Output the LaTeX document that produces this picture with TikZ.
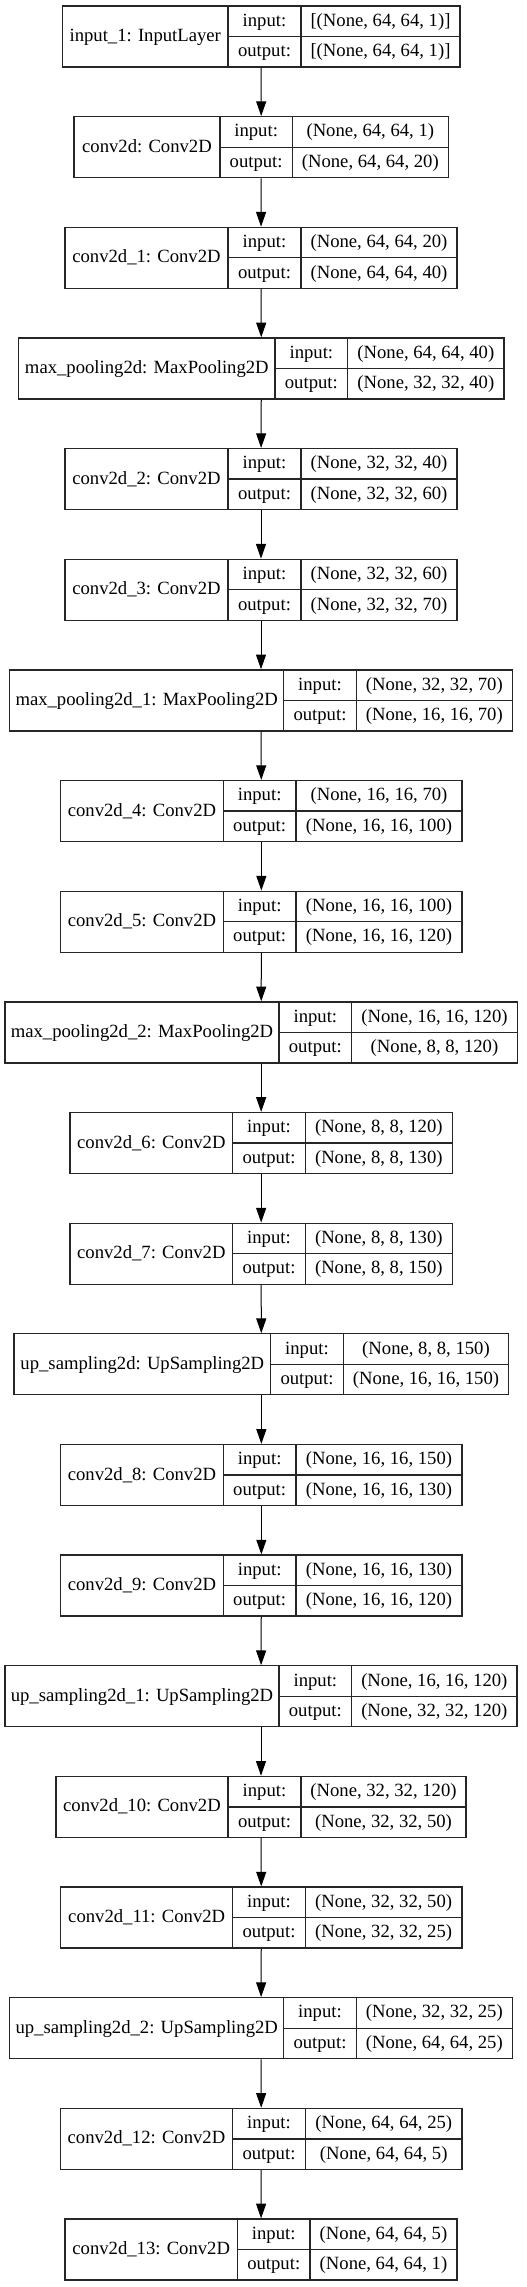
\documentclass[tikz,border=0pt]{standalone}
\usepackage{fontspec}
\setmainfont{Liberation Serif}
\usetikzlibrary{arrows.meta,positioning}

% one layer record: name, top, left, first bar, second bar, right, label, in, out
\newcommand{\layer}[9]{%
  \node[layerbox, minimum width={(#6-#3)*0.75pt}] (#1) at ({(#3+#6)/2},{#2+30.5}) {};
  \draw[divider] (#4,#2) -- (#4,{#2+61}) (#5,#2) -- (#5,{#2+61})
    (#4,{#2+30.5}) -- (#6,{#2+30.5});
  \node[celltext] (#1-name) at ({(#3+#4)/2},{#2+30.5}) {#7};
  \node[celltext] (#1-in) at ({(#4+#5)/2},{#2+15.25}) {input:};
  \node[celltext] (#1-out) at ({(#4+#5)/2},{#2+45.75}) {output:};
  \node[celltext] (#1-inv) at ({(#5+#6)/2},{#2+15.25}) {#8};
  \node[celltext] (#1-outv) at ({(#5+#6)/2},{#2+45.75}) {#9};
}

\begin{document}
\begin{tikzpicture}[x=0.75pt,y=-0.75pt,
  layerbox/.style={draw=black!85,line width=1pt,inner sep=0pt,minimum height=45.75pt},
  divider/.style={draw=black!85,line width=1pt},
  celltext/.style={inner sep=0pt,text height=10.5pt,text depth=3pt,
    font=\fontsize{14pt}{16pt}\selectfont},
  flow/.style={-{Triangle[length=11pt,width=7.5pt]},line width=0.75pt}]
  \useasboundingbox (0,0) rectangle (527,2287);

  \layer{inp}{6}{62.5}{228}{301}{460}{input\_1: InputLayer}{[(None, 64, 64, 1)]}{[(None, 64, 64, 1)]}
  \layer{conv0}{116.7}{74}{220}{292.3}{448.3}{conv2d: Conv2D}{(None, 64, 64, 1)}{(None, 64, 64, 20)}
  \layer{conv1}{227.3}{65}{228}{301}{457}{conv2d\_1: Conv2D}{(None, 64, 64, 20)}{(None, 64, 64, 40)}
  \layer{pool0}{338}{18.7}{275}{347.7}{504}{max\_pooling2d: MaxPooling2D}{(None, 64, 64, 40)}{(None, 32, 32, 40)}
  \layer{conv2}{448.6}{65}{228}{301}{457}{conv2d\_2: Conv2D}{(None, 32, 32, 40)}{(None, 32, 32, 60)}
  \layer{conv3}{559.3}{65}{228}{301}{457}{conv2d\_3: Conv2D}{(None, 32, 32, 60)}{(None, 32, 32, 70)}
  \layer{pool1}{669.9}{9.7}{283.7}{356.3}{512.3}{max\_pooling2d\_1: MaxPooling2D}{(None, 32, 32, 70)}{(None, 16, 16, 70)}
  \layer{conv4}{780.6}{60.7}{223.3}{296}{462}{conv2d\_4: Conv2D}{(None, 16, 16, 70)}{(None, 16, 16, 100)}
  \layer{conv5}{891.2}{60.7}{223.3}{296}{462}{conv2d\_5: Conv2D}{(None, 16, 16, 100)}{(None, 16, 16, 120)}
  \layer{pool2}{1001.9}{5}{279}{351.7}{517.3}{max\_pooling2d\_2: MaxPooling2D}{(None, 16, 16, 120)}{(None, 8, 8, 120)}
  \layer{conv6}{1112.5}{70}{232.7}{305.3}{452.3}{conv2d\_6: Conv2D}{(None, 8, 8, 120)}{(None, 8, 8, 130)}
  \layer{conv7}{1223.2}{70}{232.7}{305.3}{452.3}{conv2d\_7: Conv2D}{(None, 8, 8, 130)}{(None, 8, 8, 150)}
  \layer{up0}{1333.8}{14}{270.7}{343.3}{508.7}{up\_sampling2d: UpSampling2D}{(None, 8, 8, 150)}{(None, 16, 16, 150)}
  \layer{conv8}{1444.5}{60.7}{223.3}{296}{462}{conv2d\_8: Conv2D}{(None, 16, 16, 150)}{(None, 16, 16, 130)}
  \layer{conv9}{1555.1}{60.7}{223.3}{296}{462}{conv2d\_9: Conv2D}{(None, 16, 16, 130)}{(None, 16, 16, 120)}
  \layer{up1}{1665.8}{5}{279}{351.7}{517}{up\_sampling2d\_1: UpSampling2D}{(None, 16, 16, 120)}{(None, 32, 32, 120)}
  \layer{conv10}{1776.4}{56}{228}{301}{466}{conv2d\_10: Conv2D}{(None, 32, 32, 120)}{(None, 32, 32, 50)}
  \layer{conv11}{1887.1}{60.7}{232.7}{305.3}{462}{conv2d\_11: Conv2D}{(None, 32, 32, 50)}{(None, 32, 32, 25)}
  \layer{up2}{1997.7}{9.7}{283.7}{356.3}{512.3}{up\_sampling2d\_2: UpSampling2D}{(None, 32, 32, 25)}{(None, 64, 64, 25)}
  \layer{conv12}{2108.4}{60.5}{232.5}{305.5}{462}{conv2d\_12: Conv2D}{(None, 64, 64, 25)}{(None, 64, 64, 5)}
  \layer{conv13}{2219}{65}{237.5}{310}{457}{conv2d\_13: Conv2D}{(None, 64, 64, 5)}{(None, 64, 64, 1)}

  \foreach \a/\b in {inp/conv0,conv0/conv1,conv1/pool0,pool0/conv2,conv2/conv3,
    conv3/pool1,pool1/conv4,conv4/conv5,conv5/pool2,pool2/conv6,conv6/conv7,
    conv7/up0,up0/conv8,conv8/conv9,conv9/up1,up1/conv10,conv10/conv11,
    conv11/up2,up2/conv12,conv12/conv13}
    \draw[flow] (\a) -- (\b);
\end{tikzpicture}
\end{document}
